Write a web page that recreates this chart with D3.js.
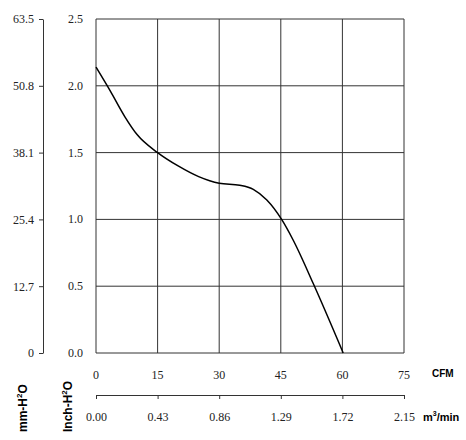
<!DOCTYPE html>
<html>
<head>
<meta charset="utf-8">
<script src="https://cdn.jsdelivr.net/npm/d3@7"></script>
<style>
  html, body { margin: 0; padding: 0; background: #fff; }
  svg { display: block; }
</style>
</head>
<body>
<svg id="chart" width="466" height="440"></svg>
<script>
(() => {
  'use strict';

  // fan curve
  const cfmValues      = [0, 3.5, 7, 10, 15, 20, 25, 30, 35, 38.3, 41.6, 45.2, 48.0, 52.9, 60.2];
  const pressureValues = [2.14, 1.96, 1.77, 1.635, 1.50, 1.40, 1.32, 1.27, 1.255, 1.225, 1.145, 1.0, 0.846, 0.52, 0.0];

  const cfmTicks   = [0, 15, 30, 45, 60, 75];
  const m3Ticks    = ["0.00", "0.43", "0.86", "1.29", "1.72", "2.15"];
  const inchTicks  = [0, 0.5, 1.0, 1.5, 2.0, 2.5];
  const mmTicks    = ["0", "12.7", "25.4", "38.1", "50.8", "63.5"];

  const left = 96, right = 404, top = 19, bottom = 353;
  const serif = '"Liberation Serif", "Times New Roman", Times, serif';
  const sans = '"Liberation Sans", Arial, sans-serif';

  const svg = d3.select('#chart');

  const x = d3.scaleLinear().domain([0, 75]).range([left, right]);
  const y = d3.scaleLinear().domain([0, 2.5]).range([bottom, top]);
  const yMm = d3.scaleLinear().domain([0, 63.5]).range([bottom, top]);
  const xM3 = d3.scaleLinear().domain([0, 2.15]).range([left, right]);

  function serifText(sel) {
    sel.attr('font-family', serif).attr('font-size', 12).attr('fill', '#222')
      .style('font-family', serif);
  }

  // grid
  let grid = svg.append('g');
  grid.selectAll('line.v').data(cfmTicks).join('line')
    .attr('x1', d => x(d)).attr('x2', d => x(d))
    .attr('y1', top).attr('y2', bottom)
    .attr('stroke', '#333').attr('stroke-width', 1);
  grid.selectAll('line.h').data(inchTicks).join('line')
    .attr('x1', left).attr('x2', right)
    .attr('y1', d => y(d)).attr('y2', d => y(d))
    .attr('stroke', '#333').attr('stroke-width', 1);

  // inch labels
  svg.append('g').selectAll('text').data(inchTicks).join('text')
    .attr('x', 83).attr('y', d => y(d) + 4)
    .attr('text-anchor', 'end')
    .call(serifText)
    .text(d => d.toFixed(1));

  // mm axis
  const mmAxis = d3.axisLeft(yMm)
    .tickValues(mmTicks.map(Number))
    .tickFormat((d, i) => mmTicks[i])
    .tickSize(4).tickSizeOuter(0).tickPadding(5);
  let gMm = svg.append('g').attr('transform', 'translate(43,0)').call(mmAxis);
  gMm.selectAll('path, line').attr('stroke', '#333');
  gMm.selectAll('text').call(serifText);

  // CFM labels
  svg.append('g').selectAll('text').data(cfmTicks).join('text')
    .attr('x', d => x(d)).attr('y', 379)
    .attr('text-anchor', 'middle')
    .call(serifText)
    .text(d => d);

  // m3/min axis
  const m3Axis = d3.axisBottom(xM3)
    .tickValues(m3Ticks.map(Number))
    .tickFormat((d, i) => m3Ticks[i])
    .tickSize(4).tickSizeOuter(0).tickPadding(13);
  let gM3 = svg.append('g').attr('transform', 'translate(0,395)').call(m3Axis);
  gM3.selectAll('path, line').attr('stroke', '#333');
  gM3.selectAll('text').call(serifText);

  // curve
  const pts = cfmValues.map((c, i) => [c, pressureValues[i]]);
  const line = d3.line().x(d => x(d[0])).y(d => y(d[1])).curve(d3.curveMonotoneX);
  svg.append('path').datum(pts)
    .attr('d', line)
    .attr('fill', 'none').attr('stroke', '#000').attr('stroke-width', 1.5);

  // unit labels
  svg.append('text').attr('x', 432).attr('y', 377)
    .style('font-family', sans).style('font-weight', 'bold').style('font-size', '10px')
    .text('CFM');

  let m3 = svg.append('text').attr('x', 423).attr('y', 421)
    .style('font-family', sans).style('font-weight', 'bold').style('font-size', '11px');
  m3.append('tspan').text('m');
  m3.append('tspan').attr('dy', -5).style('font-size', '7px').text('3');
  m3.append('tspan').attr('dy', 5).text('/min');

  function vlabel(cx, name) {
    let t = svg.append('text')
      .attr('transform', `translate(${cx},432) rotate(-90)`)
      .style('font-family', sans).style('font-weight', 'bold').style('font-size', '12px');
    t.append('tspan').text(name + '-H');
    t.append('tspan').attr('dy', -5).style('font-size', '8px').text('2');
    t.append('tspan').attr('dy', 5).text('O');
  }
  vlabel(27, 'mm');
  vlabel(72, 'Inch');
})();
</script>
</body>
</html>
